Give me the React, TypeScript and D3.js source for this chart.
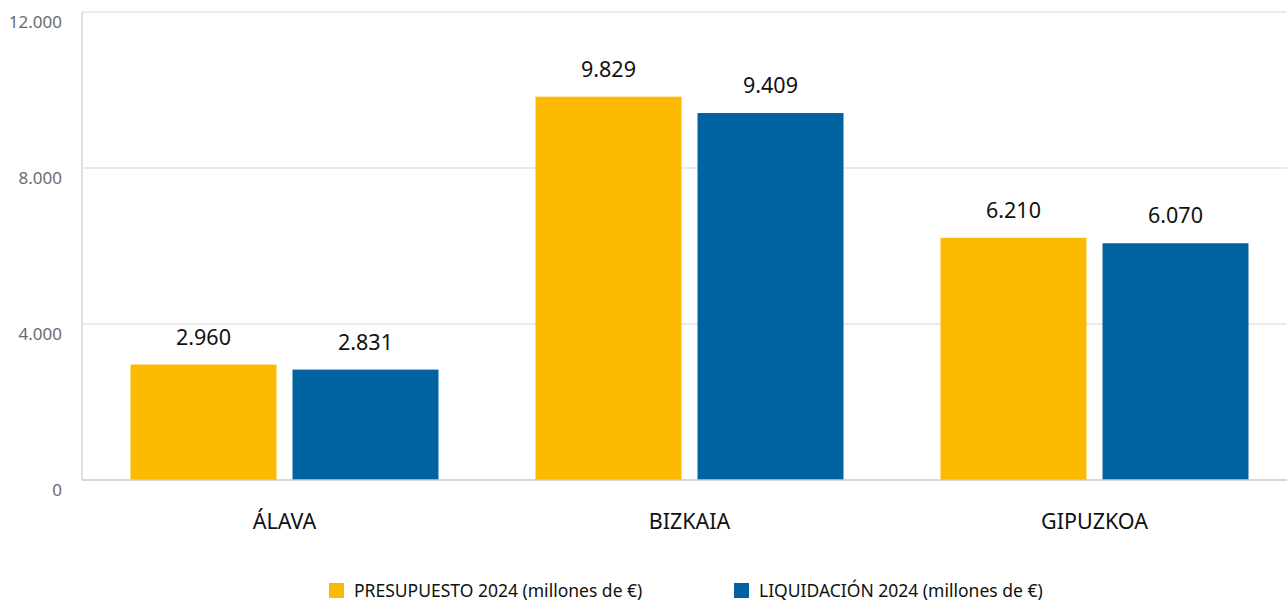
import React from "react";
import * as d3 from "d3";

const categories = ["ÁLAVA", "BIZKAIA", "GIPUZKOA"];
const seriesNames = ["PRESUPUESTO 2024 (millones de €)", "LIQUIDACIÓN 2024 (millones de €)"];
const presupuesto = [2960, 9829, 6210];
const liquidacion = [2831, 9409, 6070];
const yTicks = [0, 4000, 8000, 12000];
const colors = ["#FBB900", "#0062A0"];

const W = 1287;
const H = 601;
const left = 82;
const top = 12;
const bottom = 480;
const right = 1297;

const fmt = (v: number) => d3.format(",")(v).replace(/,/g, ".");

export default function App() {
  const x = d3.scaleBand<string>().domain(categories).range([left, right]).paddingInner(0).paddingOuter(0);
  const y = d3.scaleLinear().domain([0, 12000]).range([bottom, top]);
  const inner = d3.scaleBand<string>().domain(["p", "l"]).range([48.5, 405 - 48.5]).paddingInner(16 / 162);
  const series = [presupuesto, liquidacion];
  const font = "'Noto Sans', 'Open Sans', sans-serif";
  return (
    <svg width={W} height={H} style={{ position: "absolute", left: 0, top: 0 }} fontFamily={font}>
      <rect width={W} height={H} fill="#fff" />
      {yTicks.map((t) => (
        <g key={t}>
          {t > 0 && <line x1={left} x2={W} y1={y(t)} y2={y(t)} stroke="#e3e3e3" strokeWidth={1.5} />}
          <text x={62} y={y(t) + 15.5} textAnchor="end" fontSize={17} fill="#6b6b6b">
            {fmt(t)}
          </text>
        </g>
      ))}
      <line x1={left} x2={left} y1={top} y2={bottom} stroke="#d6d6d6" strokeWidth={1.5} />
      {categories.map((c, i) => (
        <g key={c} transform={`translate(${x(c)},0)`}>
          {series.map((s, j) => {
            const key = j === 0 ? "p" : "l";
            const bx = inner(key)!;
            const bw = inner.bandwidth();
            return (
              <g key={key}>
                <rect x={bx} y={y(s[i])} width={bw} height={bottom - y(s[i])} fill={colors[j]} />
                <text x={bx + bw / 2} y={y(s[i]) - 20} textAnchor="middle" fontSize={21.5} fill="#111">
                  {fmt(s[i])}
                </text>
              </g>
            );
          })}
          <text x={x.bandwidth() / 2} y={528.5} textAnchor="middle" fontSize={21.5} fill="#111">
            {c}
          </text>
        </g>
      ))}
      <line x1={left} x2={W} y1={bottom} y2={bottom} stroke="#c8c8c8" strokeWidth={1.5} />
      {seriesNames.map((n, j) => (
        <g key={n} transform={`translate(${329 + j * 405},583)`}>
          <rect width={15} height={15} fill={colors[j]} />
          <text x={25} y={14} fontSize={17.5} fill="#111">
            {n}
          </text>
        </g>
      ))}
    </svg>
  );
}
